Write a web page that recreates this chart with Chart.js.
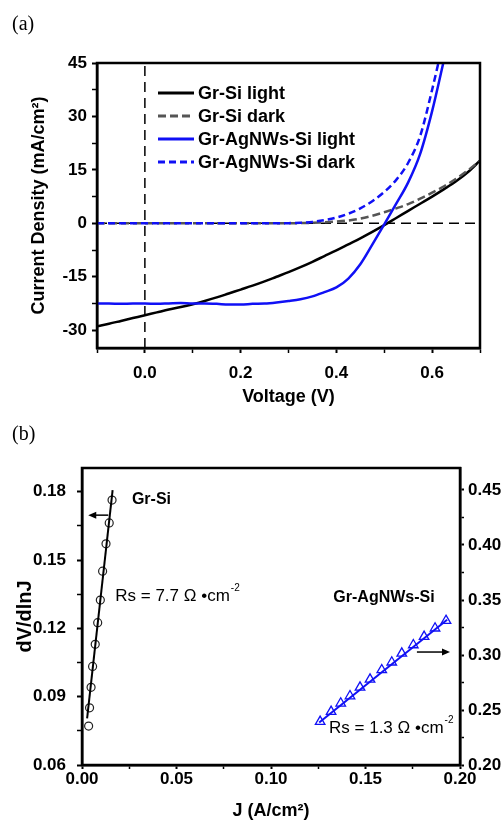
<!DOCTYPE html>
<html>
<head>
<meta charset="utf-8">
<script src="https://cdn.jsdelivr.net/npm/chart.js@4.4.1/dist/chart.umd.min.js"></script>
<style>
  body { margin: 0; background: #fff; }
  #wrap { position: relative; width: 504px; height: 822px; }
  canvas { position: absolute; left: 0; }
  .panel { position: absolute; left: 12px; font-family: 'Liberation Serif', 'Times New Roman', serif; font-size: 20px; line-height: 20px; color: #000; }
</style>
</head>
<body>
<div id="wrap">
  <canvas id="chartA" width="504" height="410" style="top:0"></canvas>
  <canvas id="chartB" width="504" height="412" style="top:410px"></canvas>
  <div class="panel" style="top:13px">(a)</div>
  <div class="panel" style="top:423px">(b)</div>
</div>
<script>
// ---- Panel (a): J-V curves ----
const voltage = [-0.1, -0.075, -0.05, -0.025, 0, 0.025, 0.05, 0.075, 0.1, 0.125, 0.15, 0.175, 0.2, 0.225, 0.25, 0.275,
                 0.3, 0.325, 0.35, 0.375, 0.4, 0.425, 0.45, 0.475, 0.5, 0.525, 0.55, 0.575, 0.6, 0.625, 0.65, 0.675, 0.7];
const grSiLight = [-28.9, -28.2, -27.4, -26.6, -25.8, -25.0, -24.2, -23.5, -22.7, -21.8, -20.8, -19.7, -18.6, -17.5, -16.3, -15.0,
                   -13.7, -12.3, -10.8, -9.2, -7.6, -5.9, -4.2, -2.4, -0.5, 1.5, 3.5, 5.5, 7.5, 9.6, 11.8, 14.4, 17.6];
const grSiDark = [0, 0, 0, 0, 0, 0, 0, 0, 0, 0, 0, 0, 0, 0, 0, 0,
                  0, 0.05, 0.15, 0.3, 0.5, 0.8, 1.3, 2.1, 3.1, 4.2, 5.4, 6.9, 8.6, 10.4, 12.5, 14.9, 17.6];
const agLight = [-22.5, -22.5, -22.6, -22.5, -22.5, -22.6, -22.5, -22.4, -22.5, -22.5, -22.6, -22.8, -22.8, -22.6, -22.5, -22.2,
                 -21.8, -21.3, -20.5, -19.3, -18.0, -15.5, -11.5, -6.0, -0.3, 5.5, 11.5, 19.5, 31.5, 46, null, null, null];
const agDark = [0, 0, 0, 0, 0, 0, 0, 0, 0, 0, 0, 0, 0, 0, 0, 0,
                0.05, 0.15, 0.4, 0.9, 1.6, 2.7, 4.2, 6.2, 8.8, 12.2, 17.0, 24.5, 37.5, 52, null, null, null];
const seriesNames = ['Gr-Si light', 'Gr-Si dark', 'Gr-AgNWs-Si light', 'Gr-AgNWs-Si dark'];

const voltageRange = [-0.1, 0.7];
const currentRange = [-35, 45];
const voltageTicks = [-0.1, 0, 0.1, 0.2, 0.3, 0.4, 0.5, 0.6, 0.7];
const currentTicks = [-30, -22.5, -15, -7.5, 0, 7.5, 15, 22.5, 30, 37.5, 45];

// ---- Panel (b): dV/dlnJ vs J ----
const grSiJ = [0.0035, 0.0040, 0.0048, 0.0056, 0.0070, 0.0083, 0.0097, 0.0109, 0.0127, 0.0144, 0.0159];
const grSiDv = [0.0771, 0.0851, 0.0941, 0.1033, 0.1130, 0.1225, 0.1324, 0.1451, 0.1571, 0.1663, 0.1763];
const grSiFitJ = [0.0027, 0.0162];
const grSiFitDv = [0.0805, 0.1807];
const agJ = [0.1260, 0.1318, 0.1369, 0.1418, 0.1471, 0.1524, 0.1586, 0.1639, 0.1692, 0.1753, 0.1810, 0.1868, 0.1926];
const agDv = [0.2394, 0.2485, 0.2561, 0.2627, 0.2706, 0.2779, 0.2864, 0.2934, 0.3015, 0.3091, 0.3167, 0.3243, 0.3312];
const agFitJ = [0.1255, 0.1932];
const agFitDv = [0.2387, 0.3320];

const jTicks = [0, 0.025, 0.05, 0.075, 0.1, 0.125, 0.15, 0.175, 0.2];
const leftTicks = [0.06, 0.075, 0.09, 0.105, 0.12, 0.135, 0.15, 0.165, 0.18];
const rightTicks = [0.2, 0.225, 0.25, 0.275, 0.3, 0.325, 0.35, 0.375, 0.4, 0.425, 0.45];

Chart.defaults.font.family = "'Liberation Sans', Arial, sans-serif";
Chart.defaults.color = '#000';

const BLUE = '#1010f5';

function isMajor(v, step) {
    return Math.abs(v / step - Math.round(v / step)) < 1e-6;
}

function points(xs, ys) {
    return xs.map((x, i) => ({ x: x, y: ys[i] }));
}

// builds an axis with major + minor ticks, only majors labelled
function axis(opts) {
    return {
        type: 'linear',
        position: opts.position,
        min: opts.min,
        max: opts.max,
        afterBuildTicks: (s) => { s.ticks = opts.ticks.map(v => ({ value: v })); },
        afterFit: (s) => {
            if (opts.width !== undefined) s.width = opts.width;
            if (opts.height !== undefined) s.height = opts.height;
        },
        ticks: {
            autoSkip: false,
            maxRotation: 0,
            padding: opts.pad,
            font: { size: 17, weight: 'bold' },
            color: '#000',
            callback: (v) => isMajor(v, opts.step) ? v.toFixed(opts.digits) : ''
        },
        grid: {
            drawOnChartArea: false,
            tickLength: opts.tickLength,
            tickColor: '#000',
            tickWidth: (ctx) => (ctx.tick && isMajor(ctx.tick.value, opts.step)) ? 2 : 1.5
        },
        border: { color: '#000', width: 2.5 },
        title: opts.title ? {
            display: true,
            text: opts.title,
            color: '#000',
            font: { size: opts.titleSize, weight: 'bold' },
            padding: opts.titlePad
        } : { display: false }
    };
}

// black frame around the plot area
const framePlugin = {
    id: 'frame',
    afterDraw(chart) {
        const { ctx, chartArea: a } = chart;
        ctx.save();
        ctx.strokeStyle = '#000';
        ctx.lineWidth = 2.5;
        ctx.strokeRect(a.left, a.top, a.right - a.left, a.bottom - a.top);
        ctx.restore();
    }
};

// legend inside panel (a), built from the datasets
const legendPlugin = {
    id: 'insideLegend',
    afterDatasetsDraw(chart) {
        const ctx = chart.ctx;
        const rows = chart.data.datasets.filter(d => !d.guide);
        ctx.save();
        rows.forEach((d, i) => {
            const y = 93 + i * 23;
            ctx.strokeStyle = d.borderColor;
            ctx.lineWidth = 3;
            ctx.setLineDash(d.borderDash || []);
            ctx.beginPath();
            ctx.moveTo(158, y);
            ctx.lineTo(194, y);
            ctx.stroke();
            ctx.setLineDash([]);
            ctx.fillStyle = '#000';
            ctx.font = "bold 18px 'Liberation Sans', Arial, sans-serif";
            ctx.textBaseline = 'middle';
            ctx.fillText(d.label, 198, y + 1);
        });
        ctx.restore();
    }
};

function createChartA() {
    const ctx = document.getElementById('chartA').getContext('2d');
    const line = (label, ys, color, dash, order) => ({
        label: label,
        data: points(voltage, ys),
        borderColor: color,
        borderWidth: 2.5,
        borderDash: dash,
        pointRadius: 0,
        cubicInterpolationMode: 'monotone',
        fill: false,
        clip: 0,
        order: order
    });
    const guide = (data) => ({
        guide: true,
        data: data,
        borderColor: '#000',
        borderWidth: 1.5,
        borderDash: [10, 6],
        pointRadius: 0,
        order: 10
    });
    return new Chart(ctx, {
        type: 'line',
        data: {
            datasets: [
                line(seriesNames[0], grSiLight, '#000', undefined, 4),
                line(seriesNames[1], grSiDark, '#555', [8, 4], 3),
                line(seriesNames[2], agLight, BLUE, undefined, 1),
                line(seriesNames[3], agDark, BLUE, [7, 4], 2),
                guide([{ x: voltageRange[0], y: 0 }, { x: voltageRange[1], y: 0 }]),
                guide([{ x: 0, y: currentRange[0] }, { x: 0, y: currentRange[1] }])
            ]
        },
        options: {
            responsive: false,
            animation: false,
            events: [],
            layout: { padding: { top: 63, right: 24, left: 0, bottom: 0 } },
            plugins: { legend: { display: false }, tooltip: { enabled: false } },
            scales: {
                x: axis({ position: 'bottom', min: voltageRange[0], max: voltageRange[1], ticks: voltageTicks, step: 0.2, digits: 1,
                          pad: 10, tickLength: 5, height: 62, title: 'Voltage (V)', titleSize: 18, titlePad: { top: 0, bottom: 2 } }),
                y: axis({ position: 'left', min: currentRange[0], max: currentRange[1], ticks: currentTicks, step: 15, digits: 0,
                          pad: 5, tickLength: 5, width: 97, title: 'Current Density (mA/cm²)', titleSize: 18, titlePad: { top: 28, bottom: 0 } })
            }
        },
        plugins: [framePlugin, legendPlugin]
    });
}

// text labels and arrows in panel (b), placed in data units
const notesPlugin = {
    id: 'notes',
    afterDatasetsDraw(chart) {
        const { ctx, scales } = chart;
        const X = (v) => scales.x.getPixelForValue(v);
        const YL = (v) => scales.y.getPixelForValue(v);
        const YR = (v) => scales.y1.getPixelForValue(v);
        ctx.save();
        ctx.fillStyle = '#000';
        ctx.textBaseline = 'alphabetic';

        ctx.font = "bold 16px 'Liberation Sans', Arial, sans-serif";
        ctx.fillText('Gr-Si', X(0.0264), YL(0.1746));
        ctx.fillText('Gr-AgNWs-Si', X(0.1330), YL(0.1317));

        const rs = (text, x, y) => {
            ctx.font = "17px 'Liberation Sans', Arial, sans-serif";
            ctx.fillText(text, x, y);
            const w = ctx.measureText(text).width;
            ctx.font = "10px 'Liberation Sans', Arial, sans-serif";
            ctx.fillText('-2', x + w + 1, y - 10);
        };
        rs('Rs = 7.7 Ω •cm', X(0.0176), YL(0.1321));
        rs('Rs = 1.3 Ω •cm', X(0.1307), YL(0.0742));

        const arrow = (x1, x2, y) => {
            ctx.strokeStyle = '#000';
            ctx.lineWidth = 1.5;
            ctx.beginPath();
            ctx.moveTo(x1, y);
            ctx.lineTo(x2 - Math.sign(x2 - x1) * 6, y);
            ctx.stroke();
            const d = Math.sign(x2 - x1);
            ctx.beginPath();
            ctx.moveTo(x2, y);
            ctx.lineTo(x2 - d * 8, y - 3.5);
            ctx.lineTo(x2 - d * 8, y + 3.5);
            ctx.closePath();
            ctx.fill();
        };
        arrow(X(0.0139), X(0.0033), YL(0.1697));
        arrow(X(0.1772), X(0.1947), YR(0.3027));
        ctx.restore();
    }
};

function createChartB() {
    const ctx = document.getElementById('chartB').getContext('2d');
    return new Chart(ctx, {
        type: 'scatter',
        data: {
            datasets: [
                { label: 'Gr-Si fit', data: points(grSiFitJ, grSiFitDv), showLine: true, borderColor: '#000', borderWidth: 2, pointRadius: 0, yAxisID: 'y' },
                { label: 'Gr-Si', data: points(grSiJ, grSiDv), borderColor: '#222', backgroundColor: 'rgba(0,0,0,0)', borderWidth: 1.2, pointRadius: 4, pointStyle: 'circle', yAxisID: 'y' },
                { label: 'Gr-AgNWs-Si fit', data: points(agFitJ, agFitDv), showLine: true, borderColor: BLUE, borderWidth: 2, pointRadius: 0, yAxisID: 'y1' },
                { label: 'Gr-AgNWs-Si', data: points(agJ, agDv), borderColor: BLUE, backgroundColor: 'rgba(0,0,0,0)', borderWidth: 1.3, pointRadius: 5.5, pointStyle: 'triangle', yAxisID: 'y1' }
            ]
        },
        options: {
            responsive: false,
            animation: false,
            events: [],
            layout: { padding: { top: 58, right: 0, left: 0, bottom: 0 } },
            plugins: { legend: { display: false }, tooltip: { enabled: false } },
            scales: {
                x: axis({ position: 'bottom', min: 0, max: 0.2, ticks: jTicks, step: 0.05, digits: 2,
                          pad: 0, tickLength: 4, height: 57, title: 'J (A/cm²)', titleSize: 18, titlePad: { top: 0, bottom: 0 } }),
                y: axis({ position: 'left', min: 0.06, max: 0.1904, ticks: leftTicks, step: 0.03, digits: 2,
                          pad: 11, tickLength: 5, width: 82, title: 'dV/dlnJ', titleSize: 20, titlePad: { top: 13, bottom: 0 } }),
                y1: axis({ position: 'right', min: 0.2, max: 0.47, ticks: rightTicks, step: 0.05, digits: 2,
                           pad: 4, tickLength: 4, width: 44 })
            }
        },
        plugins: [framePlugin, notesPlugin]
    });
}

window.chartA = createChartA();
window.chartB = createChartB();
</script>
</body>
</html>
